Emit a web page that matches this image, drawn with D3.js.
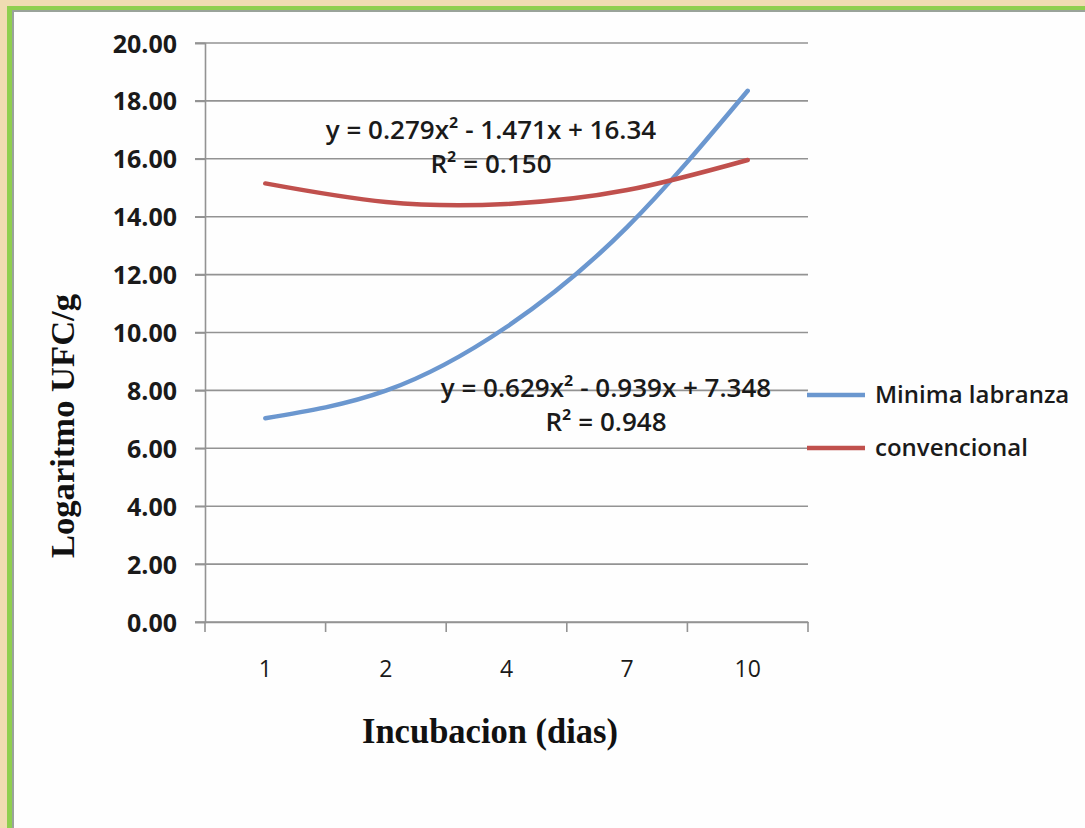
<!DOCTYPE html>
<html>
<head>
<meta charset="utf-8">
<script src="https://cdn.jsdelivr.net/npm/d3@7"></script>
<style>
    body { margin: 0; overflow: hidden; }
</style>
</head>
<body>
<script>
const svgWidth = 1085;
const svgHeight = 828;

// data
const days = ["1", "2", "4", "7", "10"];
const minimaLabranza = [7.04, 7.99, 10.19, 13.64, 18.35];
const convencional = [15.15, 14.51, 14.44, 14.92, 15.96];
const yTicks = [0, 2, 4, 6, 8, 10, 12, 14, 16, 18, 20];
const seriesNames = ["Minima labranza", "convencional"];
const seriesColors = ["#6b97cf", "#c0504d"];
const trendLabels = [
    ["y = 0.279x² - 1.471x + 16.34", "R² = 0.150"],
    ["y = 0.629x² - 0.939x + 7.348", "R² = 0.948"]
];

const plotLeft = 205;
const plotRight = 808;
const plotTop = 43;
const plotBottom = 622;

const svg = d3.select("body").append("svg").attr('width', svgWidth).attr('height', svgHeight);

// slide background + green frame
svg.append("rect")
    .attr("width", "100%")
    .attr("height", "100%")
    .attr("fill", "#f0dcb2");

svg.append("rect")
    .attr("x", 7)
    .attr("y", 6)
    .attr("width", svgWidth)
    .attr("height", svgHeight)
    .attr("fill", "#8fcf4f");

svg.append("rect")
    .attr("x", 12)
    .attr("y", 10)
    .attr("width", svgWidth)
    .attr("height", svgHeight)
    .attr("fill", "#9aa39a");

svg.append("rect")
    .attr("x", 14)
    .attr("y", 12)
    .attr("width", svgWidth)
    .attr("height", svgHeight)
    .attr("fill", "#fefefe");

const x = d3.scaleBand().domain(days).range([plotLeft, plotRight]);
const y = d3.scaleLinear().domain([0, 20]).range([plotBottom, plotTop]);

// gridlines
svg.append("g")
    .selectAll("line")
    .data(yTicks)
    .join("line")
    .attr("x1", plotLeft - 10)
    .attr("x2", plotRight)
    .attr("y1", d => y(d))
    .attr("y2", d => y(d))
    .attr("stroke", "#939393")
    .attr("stroke-width", 1.6);

// y axis
const yAxis = svg.append("g")
    .attr("transform", `translate(${plotLeft},0)`)
    .call(d3.axisLeft(y).tickValues(yTicks).tickSize(10).tickFormat(d3.format(".2f")));

yAxis.select(".domain").attr("stroke", "#939393").attr("stroke-width", 1.6);
yAxis.selectAll(".tick line").attr("stroke", "#939393").attr("stroke-width", 1.6);
yAxis.selectAll(".tick text")
    .attr("x", -28)
    .attr("dy", "0.36em")
    .attr("font-family", "'Open Sans', sans-serif")
    .attr("font-weight", "bold")
    .attr("font-size", 25)
    .attr("fill", "#1a1a1a");

// x axis, ticks between categories
const xAxis = svg.append("g")
    .attr("transform", `translate(0,${plotBottom})`)
    .call(d3.axisBottom(x).tickSize(0).tickSizeOuter(0));

xAxis.select(".domain").attr("stroke", "#939393").attr("stroke-width", 1.6);
xAxis.selectAll(".tick text")
    .attr("y", 47)
    .attr("dy", "0.36em")
    .attr("font-family", "'Open Sans', sans-serif")
    .attr("font-size", 23)
    .attr("fill", "#1a1a1a");

xAxis.selectAll(".sep")
    .data(d3.range(days.length + 1))
    .join("line")
    .attr("class", "sep")
    .attr("x1", i => plotLeft + i * x.step())
    .attr("x2", i => plotLeft + i * x.step())
    .attr("y1", 0)
    .attr("y2", 10)
    .attr("stroke", "#939393")
    .attr("stroke-width", 1.6);

// series curves
const line = d3.line()
    .x((d, i) => x(days[i]) + x.bandwidth() / 2)
    .y(d => y(d))
    .curve(d3.curveNatural);

[minimaLabranza, convencional].forEach(function (values, i) {
    svg.append("path")
        .attr("d", line(values))
        .attr("fill", "none")
        .attr("stroke", seriesColors[i])
        .attr("stroke-width", 4.5)
        .attr("stroke-linecap", "round");
});

// trendline equations
const labelPos = [[491, 139], [606, 397]];
trendLabels.forEach(function (lines, i) {
    const t = svg.append("text")
        .attr("x", labelPos[i][0])
        .attr("y", labelPos[i][1])
        .attr("text-anchor", "middle")
        .attr("font-family", "'Open Sans', sans-serif")
        .attr("font-weight", 600)
        .attr("font-size", 26)
        .attr("fill", "#1a1a1a");
    lines.forEach(function (s, k) {
        t.append("tspan")
            .attr("x", labelPos[i][0])
            .attr("dy", k === 0 ? 0 : 34)
            .text(s);
    });
});

// legend
const legend = svg.append("g")
    .selectAll("g")
    .data(seriesNames)
    .join("g")
    .attr("transform", (d, i) => `translate(807,${395 + i * 53})`);

legend.append("line")
    .attr("x1", 0)
    .attr("x2", 58)
    .attr("stroke", (d, i) => seriesColors[i])
    .attr("stroke-width", 4.5);

legend.append("text")
    .attr("x", 68)
    .attr("dy", "0.35em")
    .attr("font-family", "'Open Sans', sans-serif")
    .attr("font-weight", 600)
    .attr("font-size", 24)
    .attr("fill", "#1a1a1a")
    .text(d => d);

// axis titles
svg.append("text")
    .attr("transform", "translate(74,426) rotate(-90)")
    .attr("text-anchor", "middle")
    .attr("font-family", "'Liberation Serif', serif")
    .attr("font-weight", "bold")
    .attr("font-size", 34)
    .attr("textLength", 264)
    .attr("lengthAdjust", "spacingAndGlyphs")
    .attr("fill", "#111")
    .text("Logaritmo UFC/g");

svg.append("text")
    .attr("x", 490)
    .attr("y", 743)
    .attr("text-anchor", "middle")
    .attr("font-family", "'Liberation Serif', serif")
    .attr("font-weight", "bold")
    .attr("font-size", 35)
    .attr("textLength", 256)
    .attr("lengthAdjust", "spacingAndGlyphs")
    .attr("fill", "#111")
    .text("Incubacion (dias)");
</script>
</body>
</html>
